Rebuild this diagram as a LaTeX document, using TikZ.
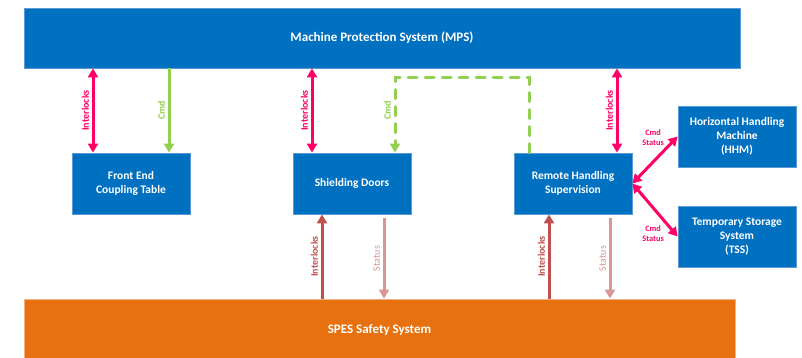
\documentclass[tikz,border=0pt]{standalone}
\usepackage{fontspec}
\setmainfont{Carlito}
\usetikzlibrary{arrows.meta}

\definecolor{boxblue}{HTML}{0070C0}
\definecolor{boxedge}{HTML}{5B9BD5}
\definecolor{safeor}{HTML}{E8710F}
\definecolor{safeedge}{HTML}{F4B183}
\definecolor{ilkpink}{HTML}{FF0066}
\definecolor{cmdgreen}{HTML}{92D050}
\definecolor{ilkred}{HTML}{C0504D}
\definecolor{stspink}{HTML}{D99694}

\begin{document}
\begin{tikzpicture}[x=1pt, y=-1pt, >={Triangle[width=10pt,length=9pt]},
    sys/.style={fill=boxblue, draw=boxedge, line width=0.8pt, text=white, align=center,
      font=\bfseries\fontsize{11.5}{13.8}\selectfont, minimum width=118pt, minimum height=61pt},
    lab/.style={rotate=90, anchor=south, inner sep=2.5pt, font=\bfseries\fontsize{10}{11}\selectfont},
    ilk/.style={draw=ilkpink, line width=3pt, <->},
    cmd/.style={draw=cmdgreen, line width=3pt, ->},
    cmdd/.style={cmd, dash pattern=on 9pt off 8pt, line cap=round},
    safe/.style={draw=ilkred, line width=3pt, ->},
    sts/.style={draw=stspink, line width=3pt, ->},
    cmdst/.style={text=ilkpink, align=center, inner sep=1pt, font=\bfseries\fontsize{8.3}{10}\selectfont}]
  \useasboundingbox (0,0) rectangle (802,358);
  \node [sys, minimum width=716pt, minimum height=60pt, font=\bfseries\fontsize{13}{15}\selectfont]
        (a) at (382.0, 38.0) {Machine Protection System (MPS)};
  \node [sys] (b) at (131.0, 183.5) {Front End\\Coupling Table};
  \node [sys] (c) at (352.0, 183.5) {Shielding Doors};
  \node [sys] (d) at (573.0, 183.5) {Remote Handling\\Supervision};
  \node [sys] (e) at (737.0, 136.5) {Horizontal Handling\\Machine\\(HHM)};
  \node [sys] (f) at (737.0, 236.5) {Temporary Storage\\System\\(TSS)};
  \node [sys, fill=safeor, draw=safeedge, minimum width=711pt, minimum height=62pt,
        font=\bfseries\fontsize{13}{15}\selectfont]
        (g) at (379.5, 330.0) {SPES Safety System};
  % MPS links
  \draw [ilk] ([xshift=-38pt]b.north) to node [lab, text=ilkpink] {Interlocks} ([xshift=-38pt]b.north |- a.south);
  \draw [cmd] ([xshift=38pt]b.north |- a.south) to node [lab, text=cmdgreen] {Cmd} ([xshift=38pt]b.north);
  \draw [ilk] ([xshift=-40pt]c.north) to node [lab, text=ilkpink] {Interlocks} ([xshift=-40pt]c.north |- a.south);
  \draw [cmdd] ([xshift=-44pt]d.north) -- ++(0,-75) -| node [lab, pos=0.72, text=cmdgreen] {Cmd} ([xshift=43pt]c.north);
  \draw [ilk] ([xshift=44pt]d.north) to node [lab, text=ilkpink] {Interlocks} ([xshift=44pt]d.north |- a.south);
  % safety system links
  \draw [safe] ([xshift=-30pt]c.south |- g.north) to node [lab, text=ilkred] {Interlocks} ([xshift=-30pt]c.south);
  \draw [sts] ([xshift=32pt,yshift=-4pt]c.south) to node [lab, text=stspink, font=\fontsize{10}{11}\selectfont] {Status} ([xshift=32pt]c.south |- g.north);
  \draw [safe] ([xshift=-24pt]d.south |- g.north) to node [lab, text=ilkred] {Interlocks} ([xshift=-24pt]d.south);
  \draw [sts] ([xshift=37pt,yshift=-4pt]d.south) to node [lab, text=stspink, font=\fontsize{10}{11}\selectfont] {Status} ([xshift=37pt]d.south |- g.north);
  % handling machines
  \draw [ilk] (d.east) to node [cmdst, pos=0.75, anchor=south east] {Cmd\\Status} (e.west);
  \draw [ilk] (d.east) to node [cmdst, pos=0.75, anchor=north east] {Cmd\\Status} (f.west);
\end{tikzpicture}
\end{document}
